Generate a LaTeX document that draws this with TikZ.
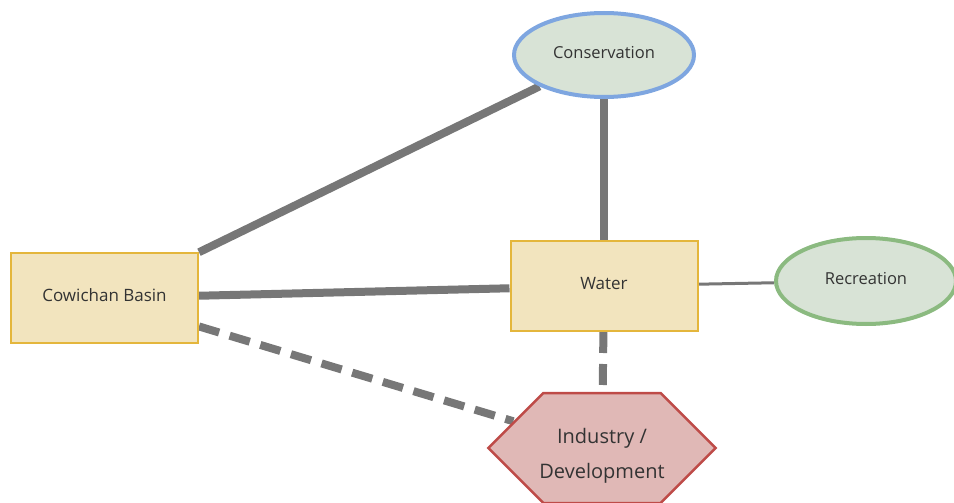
\documentclass[tikz,border=0pt]{standalone}
\usepackage{fontspec}
\setsansfont{Open Sans}
\usepackage{tikz}
\usetikzlibrary{positioning,shapes.geometric,shapes.symbols,backgrounds}
\definecolor{cbink}{HTML}{333333}
\definecolor{cbsand}{HTML}{F2E4BE}
\definecolor{cbgold}{HTML}{E4B63C}
\definecolor{cbsage}{HTML}{D8E3D6}
\definecolor{cbblue}{HTML}{7EA6E0}
\definecolor{cbgreen}{HTML}{8BBA80}
\definecolor{cbrose}{HTML}{E0B8B6}
\definecolor{cbred}{HTML}{BE4B48}
\definecolor{cbgrey}{HTML}{777777}

\begin{document}
\begin{tikzpicture}[
  x=1pt, y=-1pt,
  font=\sffamily, text=cbink,
  box/.style={rectangle, draw=cbgold, fill=cbsand, line width=2pt, minimum width=187pt, minimum height=90pt, text height=12pt, text depth=6pt, font=\sffamily\fontsize{17}{20}\selectfont},
  topic/.style={ellipse, fill=cbsage, line width=4pt, minimum width=180pt, minimum height=84pt, text height=12pt, text depth=5pt, font=\sffamily\fontsize{16.5}{20}\selectfont},
  risk/.style={signal, signal to=west and east, signal pointer angle=90, draw=cbred, fill=cbrose, line width=2.5pt, inner xsep=-4pt, minimum height=110pt, align=center, text height=65pt, text depth=5pt, font=\sffamily\fontsize{20}{35}\selectfont},
  link/.style={line width=8pt, cbgrey},
  weak/.style={line width=3pt, cbgrey},
  dashlink/.style={link, dash pattern=on 21pt off 11pt},
]
  \useasboundingbox (0,0) rectangle (954,503);

  \node[topic, draw=cbblue] (cons) at (604,55) {Conservation};
  \node[box] (water) at (604,286) {Water};
  \node[box] (basin) at (104.5,298) {Cowichan Basin};
  \node[topic, draw=cbgreen, minimum height=86pt] (rec) at (866,281) {Recreation};
  \node[risk] (ind) at (602,448) {Industry /\\Development};

  \begin{scope}[on background layer]
    \draw[link] (basin) -- (cons);
    \draw[link] (cons) -- (water);
    \draw[link] (basin) -- (water);
    \draw[weak] (water) -- (rec);
    \draw[dashlink] (basin) -- (ind);
    \draw[dashlink] (water) -- (ind);
  \end{scope}
\end{tikzpicture}
\end{document}
